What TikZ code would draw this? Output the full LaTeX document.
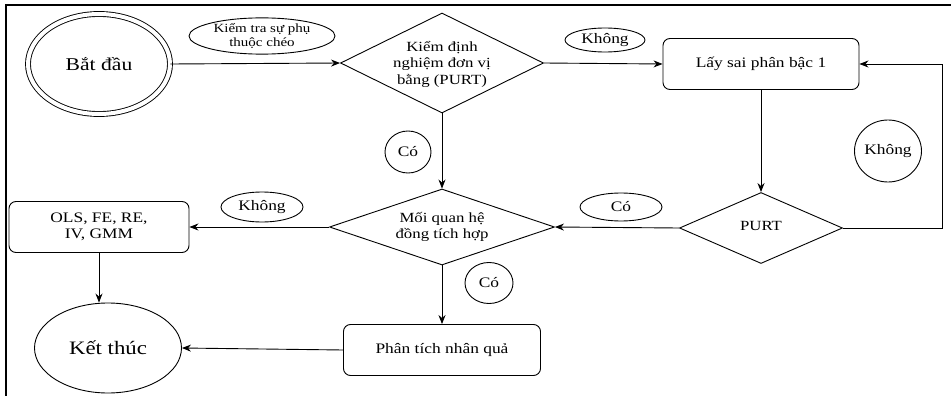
\documentclass[tikz,border=0pt]{standalone}
\usepackage{fontspec}
\setmainfont{Liberation Serif}[FakeStretch=1.2]
\usetikzlibrary{shapes.geometric,arrows.meta}
\begin{document}
\begin{tikzpicture}[x=1pt,y=-1pt,
  line width=0.9pt,
  arr/.style={-{Stealth[length=9pt,width=7pt]}},
  mainfont/.style={font=\fontsize{14.5}{16.5}\selectfont},
  boxn/.style={draw, rounded corners=7pt, minimum height=51pt, inner sep=0pt, align=center, mainfont},
  diam/.style={draw, diamond, inner sep=0pt},
  dtext/.style={align=center, inner sep=0pt, font=\fontsize{14}{16.5}\selectfont},
  lab/.style={draw, ellipse, inner sep=0pt, align=center, font=\fontsize{14.5}{16}\selectfont},
  frame/.style={line width=2pt}
]
\useasboundingbox (0,0) rectangle (951,396);
% frame
\coordinate (f1) at (6,396);
\coordinate (f2) at (6,5);
\coordinate (f3) at (951,5);
\draw[frame] (f1) -- (f2) -- (f3);

% main nodes
\node[draw, ellipse, double, double distance=4pt, minimum width=142pt, minimum height=100pt, inner sep=0pt, font=\fontsize{18}{20}\selectfont] (start) at (99,64) {Bắt đầu};
\node[diam, minimum width=203pt, minimum height=100pt] (d1) at (442,63) {};
\node[dtext] (d1t) at (442,64) {Kiểm định\\nghiệm đơn vị\\bằng (PURT)};
\node[boxn, minimum width=196pt] (b1) at (761,64) {Lấy sai phân bậc 1};
\node[diam, minimum width=163pt, minimum height=71pt] (purt) at (761,228) {};
\node[dtext] (purtt) at (761,226) {PURT};
\node[diam, minimum width=225pt, minimum height=76pt] (d2) at (442,227) {};
\node[dtext] (d2t) at (442,227) {Mối quan hệ\\đồng tích hợp};
\node[boxn, minimum width=180pt] (ols) at (99,227) {OLS, FE, RE,\\IV, GMM};
\node[boxn, minimum width=197pt] (pt) at (442,350) {Phân tích nhân quả};
\node[draw, ellipse, minimum width=147pt, minimum height=90pt, inner sep=0pt, font=\fontsize{19}{21}\selectfont] (end) at (108,348) {Kết thúc};

% labels
\node[lab, minimum width=146pt, minimum height=36pt, font=\fontsize{12.5}{14.5}\selectfont] (l1) at (262,36) {Kiểm tra sự phụ\\thuộc chéo};
\node[lab, minimum width=80pt, minimum height=24pt] (l2) at (605,40) {Không};
\node[lab, minimum width=58pt, minimum height=62pt] (l3) at (888,151) {Không};
\node[lab, minimum width=46pt, minimum height=42pt] (l4) at (408,152) {Có};
\node[lab, minimum width=82pt, minimum height=28pt] (l5) at (621,207) {Có};
\node[lab, minimum width=82pt, minimum height=30pt] (l6) at (262,207) {Không};
\node[lab, minimum width=48pt, minimum height=41pt] (l7) at (489,283) {Có};

% connectors
\coordinate (c1) at (942,228);
\coordinate (c2) at (942,64);
\draw[arr] (start.east) -- (d1.west);
\draw[arr] (d1.east) -- (b1.west);
\draw[arr] (b1.south) -- (purt.north);
\draw[arr] (purt.east) -- (c1) -- (c2) -- (b1.east);
\draw[arr] (d1.south) -- (d2.north);
\draw[arr] (purt.west) -- (d2.east);
\draw[arr] (d2.west) -- (ols.east);
\draw[arr] (ols.south) -- (ols.south |- end.north);
\draw[arr] (d2.south) -- (pt.north);
\draw[arr] (pt.west) -- (end.east);
\end{tikzpicture}
\end{document}
